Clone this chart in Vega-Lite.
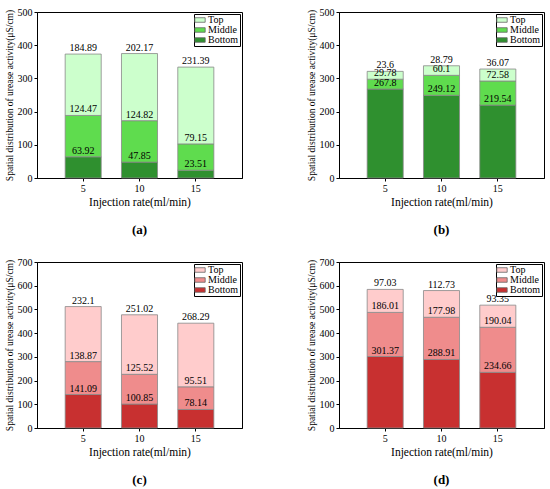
{
  "$schema": "https://vega.github.io/schema/vega-lite/v6.json",
  "padding": {"left": 3, "top": 6, "right": 0, "bottom": 0},
  "config": {
    "font": "Liberation Serif",
    "view": {"stroke": "black", "strokeWidth": 1},
    "axis": {"grid": false, "domainColor": "black", "tickColor": "black", "labelColor": "black", "titleColor": "black", "titleFontWeight": "normal", "labelFontSize": 10, "tickSize": 3, "labelFont": "Liberation Serif", "titleFont": "Liberation Serif"},
    "axisX": {"labelAngle": 0, "titleFontSize": 11.5, "titlePadding": 3, "labelPadding": 2},
    "axisY": {"titleFontSize": 9.5, "tickCount": 5, "titlePadding": 3},
    "legend": {"orient": "top-right", "offset": 2, "title": null, "strokeColor": "black", "fillColor": "white", "padding": 1, "rowPadding": 0, "labelFontSize": 10, "labelFont": "Liberation Serif", "labelColor": "black", "symbolType": "M-1.6,-0.7L1.6,-0.7L1.6,0.7L-1.6,0.7Z", "symbolSize": 42, "symbolStrokeColor": "#666", "symbolStrokeWidth": 0.8, "symbolOpacity": 1, "labelOffset": 3},
    "title": {"fontSize": 13, "fontWeight": "bold", "color": "black", "orient": "bottom", "offset": 16, "font": "Liberation Serif"},
    "text": {"font": "Liberation Serif"},
    "bar": {"stroke": "#888", "strokeWidth": 0.8}
  },
  "datasets": {
    "urease": [
      {"panel": "a", "rate": 5, "layer": "Bottom", "order": 1, "value": 63.92},
      {"panel": "a", "rate": 5, "layer": "Middle", "order": 2, "value": 124.47},
      {"panel": "a", "rate": 5, "layer": "Top", "order": 3, "value": 184.89},
      {"panel": "a", "rate": 10, "layer": "Bottom", "order": 1, "value": 47.85},
      {"panel": "a", "rate": 10, "layer": "Middle", "order": 2, "value": 124.82},
      {"panel": "a", "rate": 10, "layer": "Top", "order": 3, "value": 202.17},
      {"panel": "a", "rate": 15, "layer": "Bottom", "order": 1, "value": 23.51},
      {"panel": "a", "rate": 15, "layer": "Middle", "order": 2, "value": 79.15},
      {"panel": "a", "rate": 15, "layer": "Top", "order": 3, "value": 231.39},
      {"panel": "b", "rate": 5, "layer": "Bottom", "order": 1, "value": 267.8},
      {"panel": "b", "rate": 5, "layer": "Middle", "order": 2, "value": 29.78},
      {"panel": "b", "rate": 5, "layer": "Top", "order": 3, "value": 23.6},
      {"panel": "b", "rate": 10, "layer": "Bottom", "order": 1, "value": 249.12},
      {"panel": "b", "rate": 10, "layer": "Middle", "order": 2, "value": 60.1},
      {"panel": "b", "rate": 10, "layer": "Top", "order": 3, "value": 28.79},
      {"panel": "b", "rate": 15, "layer": "Bottom", "order": 1, "value": 219.54},
      {"panel": "b", "rate": 15, "layer": "Middle", "order": 2, "value": 72.58},
      {"panel": "b", "rate": 15, "layer": "Top", "order": 3, "value": 36.07},
      {"panel": "c", "rate": 5, "layer": "Bottom", "order": 1, "value": 141.09},
      {"panel": "c", "rate": 5, "layer": "Middle", "order": 2, "value": 138.87},
      {"panel": "c", "rate": 5, "layer": "Top", "order": 3, "value": 232.1},
      {"panel": "c", "rate": 10, "layer": "Bottom", "order": 1, "value": 100.85},
      {"panel": "c", "rate": 10, "layer": "Middle", "order": 2, "value": 125.52},
      {"panel": "c", "rate": 10, "layer": "Top", "order": 3, "value": 251.02},
      {"panel": "c", "rate": 15, "layer": "Bottom", "order": 1, "value": 78.14},
      {"panel": "c", "rate": 15, "layer": "Middle", "order": 2, "value": 95.51},
      {"panel": "c", "rate": 15, "layer": "Top", "order": 3, "value": 268.29},
      {"panel": "d", "rate": 5, "layer": "Bottom", "order": 1, "value": 301.37},
      {"panel": "d", "rate": 5, "layer": "Middle", "order": 2, "value": 186.01},
      {"panel": "d", "rate": 5, "layer": "Top", "order": 3, "value": 97.03},
      {"panel": "d", "rate": 10, "layer": "Bottom", "order": 1, "value": 288.91},
      {"panel": "d", "rate": 10, "layer": "Middle", "order": 2, "value": 177.98},
      {"panel": "d", "rate": 10, "layer": "Top", "order": 3, "value": 112.73},
      {"panel": "d", "rate": 15, "layer": "Bottom", "order": 1, "value": 234.66},
      {"panel": "d", "rate": 15, "layer": "Middle", "order": 2, "value": 190.04},
      {"panel": "d", "rate": 15, "layer": "Top", "order": 3, "value": 93.35}
    ]
  },
  "data": {"name": "urease"},
  "resolve": {"scale": {"x": "independent", "y": "independent", "color": "independent"}, "legend": {"color": "independent"}},
  "spacing": 19,
  "vconcat": [
    {
      "spacing": 62,
      "resolve": {"scale": {"x": "independent", "y": "independent", "color": "independent"}, "legend": {"color": "independent"}},
      "hconcat": [
        {
          "width": 205, "height": 166,
          "title": "(a)",
          "transform": [
            {"filter": "datum.panel === 'a'"},
            {"stack": "value", "groupby": ["rate"], "sort": [{"field": "order", "order": "ascending"}], "as": ["y0", "y1"]}
          ],
          "encoding": {
            "x": {"field": "rate", "type": "ordinal", "title": "Injection rate(ml/min)", "scale": {"paddingInner": 0.36, "paddingOuter": 0.5}}
          },
          "layer": [
            {
              "mark": "bar",
              "encoding": {
                "y": {"field": "y1", "type": "quantitative", "scale": {"domain": [0, 500]}, "title": "Spatial distribution of urease activity(μS/cm)"},
                "y2": {"field": "y0"},
                "color": {"field": "layer", "type": "nominal", "scale": {"domain": ["Top", "Middle", "Bottom"], "range": ["#ccffcc", "#5fdc4e", "#2f902f"]}}
              }
            },
            {
              "mark": {"type": "text", "baseline": "bottom", "fontSize": 10, "dy": -1},
              "encoding": {"y": {"field": "y1", "type": "quantitative"}, "text": {"field": "value", "type": "nominal"}}
            }
          ]
        },
        {
          "width": 205, "height": 166,
          "title": "(b)",
          "transform": [
            {"filter": "datum.panel === 'b'"},
            {"stack": "value", "groupby": ["rate"], "sort": [{"field": "order", "order": "ascending"}], "as": ["y0", "y1"]}
          ],
          "encoding": {
            "x": {"field": "rate", "type": "ordinal", "title": "Injection rate(ml/min)", "scale": {"paddingInner": 0.36, "paddingOuter": 0.5}}
          },
          "layer": [
            {
              "mark": "bar",
              "encoding": {
                "y": {"field": "y1", "type": "quantitative", "scale": {"domain": [0, 500]}, "title": "Spatial distribution of urease activity(μS/cm)"},
                "y2": {"field": "y0"},
                "color": {"field": "layer", "type": "nominal", "scale": {"domain": ["Top", "Middle", "Bottom"], "range": ["#ccffcc", "#5fdc4e", "#2f902f"]}}
              }
            },
            {
              "mark": {"type": "text", "baseline": "bottom", "fontSize": 10, "dy": -1},
              "encoding": {"y": {"field": "y1", "type": "quantitative"}, "text": {"field": "value", "type": "nominal"}}
            }
          ]
        }
      ]
    },
    {
      "spacing": 62,
      "resolve": {"scale": {"x": "independent", "y": "independent", "color": "independent"}, "legend": {"color": "independent"}},
      "hconcat": [
        {
          "width": 205, "height": 166,
          "title": "(c)",
          "transform": [
            {"filter": "datum.panel === 'c'"},
            {"stack": "value", "groupby": ["rate"], "sort": [{"field": "order", "order": "ascending"}], "as": ["y0", "y1"]}
          ],
          "encoding": {
            "x": {"field": "rate", "type": "ordinal", "title": "Injection rate(ml/min)", "scale": {"paddingInner": 0.36, "paddingOuter": 0.5}}
          },
          "layer": [
            {
              "mark": "bar",
              "encoding": {
                "y": {"field": "y1", "type": "quantitative", "scale": {"domain": [0, 700]}, "axis": {"tickCount": 7}, "title": "Spatial distribution of urease activity(μS/cm)"},
                "y2": {"field": "y0"},
                "color": {"field": "layer", "type": "nominal", "scale": {"domain": ["Top", "Middle", "Bottom"], "range": ["#ffcccc", "#ef8c8c", "#c83030"]}}
              }
            },
            {
              "mark": {"type": "text", "baseline": "bottom", "fontSize": 10, "dy": -1},
              "encoding": {"y": {"field": "y1", "type": "quantitative"}, "text": {"field": "value", "type": "nominal"}}
            }
          ]
        },
        {
          "width": 205, "height": 166,
          "title": "(d)",
          "transform": [
            {"filter": "datum.panel === 'd'"},
            {"stack": "value", "groupby": ["rate"], "sort": [{"field": "order", "order": "ascending"}], "as": ["y0", "y1"]}
          ],
          "encoding": {
            "x": {"field": "rate", "type": "ordinal", "title": "Injection rate(ml/min)", "scale": {"paddingInner": 0.36, "paddingOuter": 0.5}}
          },
          "layer": [
            {
              "mark": "bar",
              "encoding": {
                "y": {"field": "y1", "type": "quantitative", "scale": {"domain": [0, 700]}, "axis": {"tickCount": 7}, "title": "Spatial distribution of urease activity(μS/cm)"},
                "y2": {"field": "y0"},
                "color": {"field": "layer", "type": "nominal", "scale": {"domain": ["Top", "Middle", "Bottom"], "range": ["#ffcccc", "#ef8c8c", "#c83030"]}}
              }
            },
            {
              "mark": {"type": "text", "baseline": "bottom", "fontSize": 10, "dy": -1},
              "encoding": {"y": {"field": "y1", "type": "quantitative"}, "text": {"field": "value", "type": "nominal"}}
            }
          ]
        }
      ]
    }
  ]
}
